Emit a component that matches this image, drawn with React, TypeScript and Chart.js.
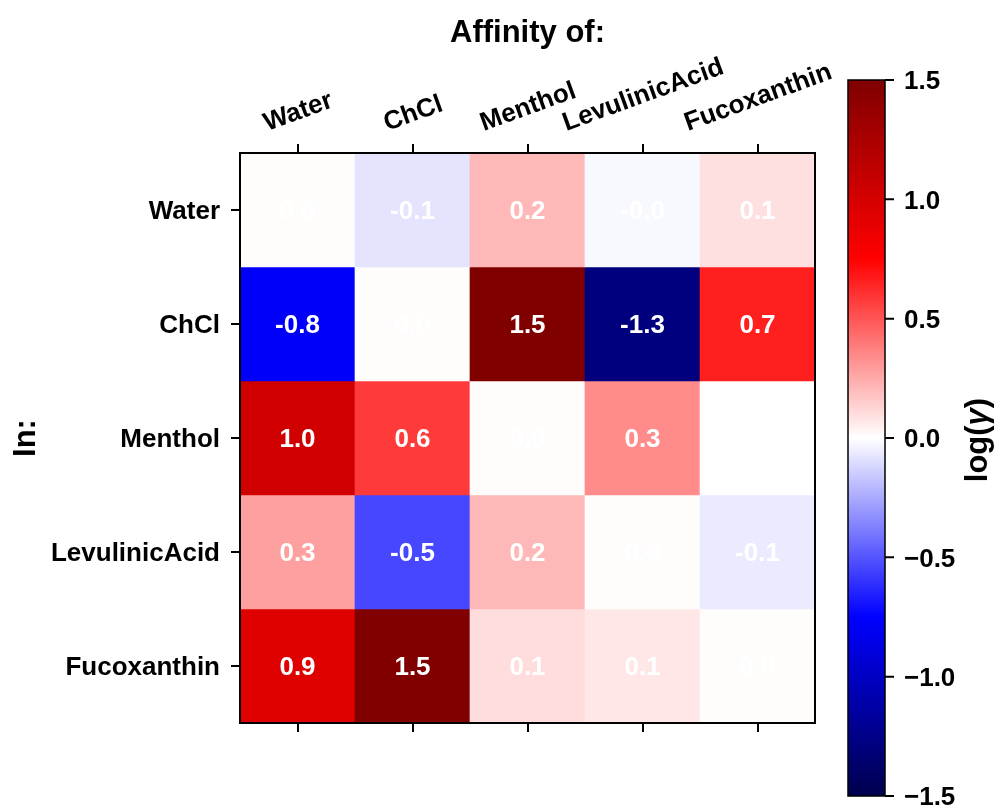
import React, { useEffect, useRef } from "react";
import { Chart, registerables } from "chart.js";

Chart.register(...registerables);

// ---- data ----
const rowLabels = ["Water", "ChCl", "Menthol", "LevulinicAcid", "Fucoxanthin"];
const colLabels = ["Water", "ChCl", "Menthol", "LevulinicAcid", "Fucoxanthin"];
const waterRow = [0.01, -0.08, 0.21, -0.02, 0.09];
const chclRow = [-0.77, 0.01, 1.5, -1.29, 0.66];
const mentholRow = [1.02, 0.58, 0.01, 0.34, 0.0];
const levulinicRow = [0.28, -0.54, 0.21, 0.01, -0.06];
const fucoxanthinRow = [0.94, 1.5, 0.1, 0.07, 0.01];
const colorbarTicks = [-1.5, -1.0, -0.5, 0.0, 0.5, 1.0, 1.5];
const vMin = -1.5;
const vMax = 1.5;
const titleTop = "Affinity of:";
const titleLeft = "In:";

const rows = [waterRow, chclRow, mentholRow, levulinicRow, fucoxanthinRow];

const FONT = "'Liberation Sans', Arial, sans-serif";

// matplotlib "seismic"
const seismicStops = [
  [0, 0, 0.3],
  [0, 0, 1],
  [1, 1, 1],
  [1, 0, 0],
  [0.5, 0, 0],
];
function seismic(v: number): string {
  let t = (v - vMin) / (vMax - vMin);
  t = Math.max(0, Math.min(1, t));
  const s = t * 4;
  const i = Math.min(3, Math.floor(s));
  const f = s - i;
  const a = seismicStops[i];
  const b = seismicStops[i + 1];
  const c = [0, 1, 2].map((k) => Math.round((a[k] + (b[k] - a[k]) * f) * 255));
  return `rgb(${c[0]},${c[1]},${c[2]})`;
}

const heatPlugin = {
  id: "heatOverlay",
  afterDraw(chart: any) {
    const ctx = chart.ctx as CanvasRenderingContext2D;
    const { left, right, top, bottom } = chart.chartArea;
    const xs = chart.scales.x;
    const ys = chart.scales.y;
    ctx.save();
    // cell values
    const valSize = 26;
    ctx.font = `bold ${valSize}px ${FONT}`;
    ctx.fillStyle = "#ffffff";
    ctx.textAlign = "center";
    ctx.textBaseline = "alphabetic";
    rows.forEach((vals, r) => {
      vals.forEach((v, c) => {
        const px = xs.getPixelForValue(c);
        const py = ys.getPixelForValue(r);
        ctx.fillText(v.toFixed(1), px, py + valSize * 0.36);
      });
    });
    // frame
    ctx.strokeStyle = "#000";
    ctx.lineWidth = 2;
    ctx.strokeRect(left, top, right - left, bottom - top);
    // ticks
    const tl = 9;
    ctx.lineWidth = 2;
    ctx.beginPath();
    colLabels.forEach((_, c) => {
      const px = Math.round(xs.getPixelForValue(c));
      ctx.moveTo(px, top);
      ctx.lineTo(px, top - tl);
      ctx.moveTo(px, bottom);
      ctx.lineTo(px, bottom + tl);
    });
    rowLabels.forEach((_, r) => {
      const py = Math.round(ys.getPixelForValue(r));
      ctx.moveTo(left, py);
      ctx.lineTo(left - tl, py);
    });
    ctx.stroke();
    // tick labels
    const lblSize = 26;
    const capH = lblSize * 0.716;
    ctx.fillStyle = "#000";
    ctx.font = `bold ${lblSize}px ${FONT}`;
    const ang = (20 * Math.PI) / 180;
    colLabels.forEach((lab, c) => {
      const px = xs.getPixelForValue(c);
      const w = ctx.measureText(lab).width;
      const yc = top - tl - 13 - (w / 2) * Math.sin(ang) - (capH / 2) * Math.cos(ang);
      ctx.save();
      ctx.translate(px, yc);
      ctx.rotate(-ang);
      ctx.textAlign = "center";
      ctx.fillText(lab, 0, capH / 2);
      ctx.restore();
    });
    ctx.textAlign = "right";
    rowLabels.forEach((lab, r) => {
      const py = ys.getPixelForValue(r);
      ctx.fillText(lab, left - tl - 11, py + capH / 2);
    });
    // titles
    ctx.font = `bold 31px ${FONT}`;
    ctx.textAlign = "center";
    ctx.fillText(titleTop, (left + right) / 2, 42);
    ctx.save();
    ctx.translate(35, (top + bottom) / 2);
    ctx.rotate(-Math.PI / 2);
    ctx.fillText(titleLeft, 0, 0);
    ctx.restore();
    ctx.restore();
  },
};

const colorbarPlugin = {
  id: "colorbarOverlay",
  afterDraw(chart: any) {
    const ctx = chart.ctx as CanvasRenderingContext2D;
    const { left, right, top, bottom } = chart.chartArea;
    const ys = chart.scales.y;
    ctx.save();
    ctx.strokeStyle = "#000";
    ctx.lineWidth = 1.5;
    ctx.strokeRect(left, top, right - left, bottom - top);
    const tl = 9;
    ctx.lineWidth = 2;
    ctx.beginPath();
    colorbarTicks.forEach((t) => {
      const py = ys.getPixelForValue(t);
      ctx.moveTo(right, py);
      ctx.lineTo(right + tl, py);
    });
    ctx.stroke();
    const size = 26;
    ctx.font = `bold ${size}px ${FONT}`;
    ctx.fillStyle = "#000";
    ctx.textAlign = "left";
    colorbarTicks.forEach((t) => {
      const py = ys.getPixelForValue(t);
      const txt = t.toFixed(1).replace("-", "\u2212");
      ctx.fillText(txt, right + tl + 10, py + size * 0.36);
    });
    // label log(γ)
    const parts = [
      { t: "log(", f: `bold 31px ${FONT}` },
      { t: "\u03b3", f: `italic bold 31px ${FONT}` },
      { t: ")", f: `bold 31px ${FONT}` },
    ];
    let total = 0;
    const widths = parts.map((p) => {
      ctx.font = p.f;
      const w = ctx.measureText(p.t).width;
      total += w;
      return w;
    });
    ctx.translate(987, (top + bottom) / 2 + 2);
    ctx.rotate(-Math.PI / 2);
    let x = -total / 2;
    parts.forEach((p, i) => {
      ctx.font = p.f;
      ctx.fillText(p.t, x, 0);
      x += widths[i];
    });
    ctx.restore();
  },
};

export default function App() {
  const heatRef = useRef<HTMLCanvasElement>(null);
  const cbRef = useRef<HTMLCanvasElement>(null);

  useEffect(() => {
    const W = 998;
    const H = 807;
    const heat = new Chart(heatRef.current!, {
      type: "bar",
      data: {
        labels: colLabels,
        datasets: rows.map((vals, r) => ({
          label: rowLabels[r],
          data: vals.map(() => [r - 0.5, r + 0.5]),
          backgroundColor: vals.map(seismic),
          borderWidth: 0,
          barPercentage: 1,
          categoryPercentage: 1,
          grouped: false,
        })),
      } as any,
      options: {
        responsive: false,
        animation: false,
        devicePixelRatio: 1,
        layout: { padding: { left: 240, top: 153, right: W - 815, bottom: H - 723 } },
        plugins: { legend: { display: false }, tooltip: { enabled: false } },
        scales: {
          x: { display: false },
          y: { display: false, min: -0.5, max: 4.5, reverse: true },
        },
      } as any,
      plugins: [heatPlugin],
    });

    const cb = new Chart(cbRef.current!, {
      type: "bar",
      data: {
        labels: [""],
        datasets: [
          {
            data: [[vMin, vMax]],
            backgroundColor: (c: any) => {
              const area = c.chart.chartArea;
              if (!area) return "#fff";
              const g = c.chart.ctx.createLinearGradient(0, area.bottom, 0, area.top);
              seismicStops.forEach((s, i) =>
                g.addColorStop(i / 4, `rgb(${s.map((k) => Math.round(k * 255)).join(",")})`)
              );
              return g;
            },
            borderWidth: 0,
            barPercentage: 1,
            categoryPercentage: 1,
          },
        ],
      } as any,
      options: {
        responsive: false,
        animation: false,
        devicePixelRatio: 1,
        layout: { padding: { left: 848, top: 80, right: W - 885, bottom: H - 796 } },
        plugins: { legend: { display: false }, tooltip: { enabled: false } },
        scales: {
          x: { display: false },
          y: { display: false, min: vMin, max: vMax },
        },
      } as any,
      plugins: [colorbarPlugin],
    });

    return () => {
      heat.destroy();
      cb.destroy();
    };
  }, []);

  return (
    <div style={{ position: "fixed", left: 0, top: 0, width: 998, height: 807, background: "#fff" }}>
      <canvas ref={heatRef} width={998} height={807} style={{ position: "absolute", left: 0, top: 0 }} />
      <canvas ref={cbRef} width={998} height={807} style={{ position: "absolute", left: 0, top: 0 }} />
    </div>
  );
}
